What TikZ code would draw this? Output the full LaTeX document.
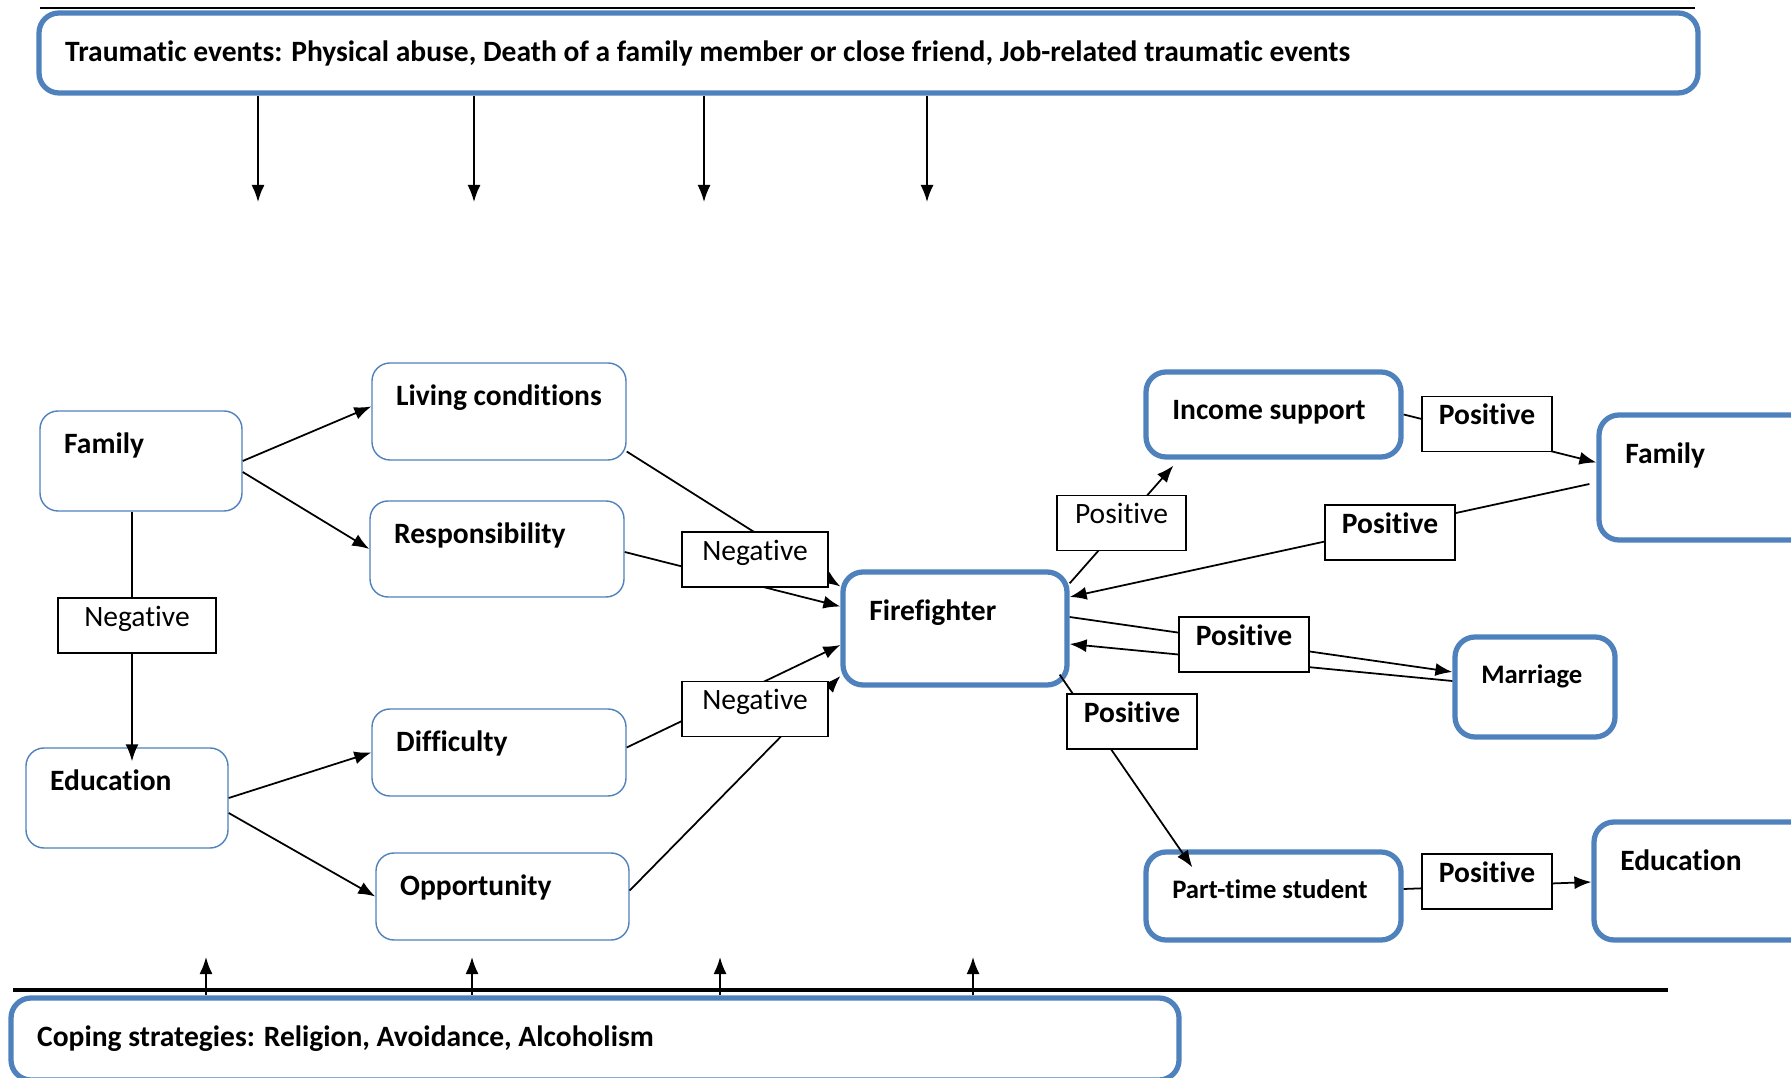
\documentclass[tikz,border=0pt]{standalone}
\usepackage{fontspec}
\setmainfont{Carlito}[Ligatures=NoCommon]
\usetikzlibrary{arrows.meta,positioning}
\definecolor{boxblue}{RGB}{79,129,189}
\newcommand{\boxfont}{\fontsize{8.4}{10}\selectfont}
\newcommand{\smallboxfont}{\fontsize{7.6}{9}\selectfont}
\tikzset{thintext/.style={anchor=north west,inner sep=0,xshift=0.24cm,yshift=-0.22cm,font=\boxfont\bfseries},
    thicktext/.style={anchor=north west,inner sep=0,xshift=0.28cm,yshift=-0.30cm,font=\boxfont\bfseries},
    thinbox/.style={draw=boxblue,line width=0.4pt,rounded corners=0.18cm,fill=white,inner sep=0,
        label={[thintext]north west:{#1}}},
    thickbox/.style={draw=boxblue,line width=1.5pt,rounded corners=0.2cm,fill=white,inner sep=0,
        label={[thicktext]north west:{#1}}},
    tag/.style={draw,fill=white,line width=0.5pt,minimum width=1.3cm,minimum height=0.55cm,inner sep=0,
        text height=0.63em,text depth=0.6em,font=\boxfont},
    rule/.style={line width=0.8pt}
}

\begin{document}
\begin{tikzpicture}[>={Latex[length=1.7mm,width=1.3mm]},line width=0.5pt]
\useasboundingbox (0,0) rectangle (17.91,-10.78);

% rules above and below
\draw [rule] (0.40,-0.08) -- (16.95,-0.08);
\draw [rule,line width=1.1pt] (0.13,-9.90) -- (16.68,-9.90);

% events and strategies
\node (trauma) at (8.685,-0.53) [thickbox={Traumatic events: Physical abuse, Death of a family member or close friend, Job-related traumatic events},minimum width=16.59cm,minimum height=0.80cm] {};
\node (coping) at (5.95,-10.39) [thickbox={Coping strategies: Religion, Avoidance, Alcoholism},minimum width=11.68cm,minimum height=0.82cm] {};

\foreach \x [count=\i] in {2.58,4.74,7.04,9.27}
{
    \coordinate (tr\i) at (\x,-2.02);
    \draw [->] (trauma.south -| tr\i) -- (tr\i);
}
\foreach \x [count=\i] in {2.06,4.72,7.20,9.73}
{
    \coordinate (cp\i) at (\x,-9.57);
    \draw [->] (coping.north -| cp\i) -- (cp\i);
}

% left side
\node (family) at (1.41,-4.61) [thinbox=Family,minimum width=2.02cm,minimum height=1.00cm] {};
\node (living) at (4.99,-4.115) [thinbox=Living conditions,minimum width=2.54cm,minimum height=0.97cm] {};
\node (resp) at (4.97,-5.49) [thinbox=Responsibility,minimum width=2.54cm,minimum height=0.96cm] {};
\node (edu) at (1.27,-7.98) [thinbox=Education,minimum width=2.02cm,minimum height=1.00cm] {};
\node (diff) at (4.99,-7.525) [thinbox=Difficulty,minimum width=2.54cm,minimum height=0.87cm] {};
\node (opp) at (5.025,-8.965) [thinbox=Opportunity,minimum width=2.53cm,minimum height=0.87cm] {};

% firefighter and outcomes
\node (ff) at (9.55,-6.285) [thickbox=Firefighter,minimum width=2.24cm,minimum height=1.13cm] {};
\node (income) at (12.735,-4.145) [thickbox=Income support,minimum width=2.55cm,minimum height=0.85cm] {};
\node (famR) at (17.145,-4.775) [thickbox=Family,minimum width=2.31cm,minimum height=1.25cm] {};
\node (marr) at (15.35,-6.87) [thickbox={\smallboxfont Marriage},minimum width=1.60cm,minimum height=1.00cm] {};
\node (pt) at (12.735,-8.96) [thickbox={\smallboxfont Part-time student},minimum width=2.55cm,minimum height=0.88cm] {};
\node (eduR) at (17.12,-8.81) [thickbox=Education,minimum width=2.36cm,minimum height=1.18cm] {};

\draw [->] (family.east) -- ([yshift=0.5mm]living.west);
\draw [->] ([yshift=-1.1mm]family.east) -- (resp.west);
\draw [->] (edu.east) -- (diff.west);
\draw [->] ([yshift=-1.5mm]edu.east) -- (opp.west);

\draw [->] ([yshift=-4mm]living.east) -- ([yshift=4.2mm]ff.west);
\draw [->] ([yshift=-0.3mm]resp.east) -- ([yshift=2.2mm]ff.west);
\draw [->] ([yshift=0.5mm]diff.east) -- ([yshift=-1.65mm]ff.west);
\draw [->] ([yshift=0.6mm]opp.east) -- ([yshift=-4.75mm]ff.west);

\draw [->] ([yshift=-1.4mm]ff.north east) -- ([xshift=3mm,yshift=-0.6mm]income.south west);
\draw [->] (income.east) -- ([yshift=1.5mm]famR.west);
\draw [->] ([xshift=-0.7mm,yshift=-0.65mm]famR.west) -- ([yshift=3.15mm]ff.east);
\draw [->] ([yshift=1.15mm]ff.east) -- ([yshift=1.5mm]marr.west);
\draw [->] ([yshift=0.6mm]marr.west) -- ([yshift=-1.55mm]ff.east);
\draw [->] ([shift={(-0.1,0.13)}]ff.south east) -- ([shift={(0.49,-0.18)}]pt.north west);
\draw [->] ([yshift=0.7mm]pt.east) -- ([yshift=-0.1mm]eduR.west);

% signs on the links
\node (negL) at (1.37,-6.255) [tag,minimum width=1.58cm] {Negative};
\draw ([xshift=-0.5mm]negL.north) -- ([xshift=-0.5mm]negL.north |- family.south);
\draw [->] ([xshift=-0.5mm]negL.south) -- ([xshift=-0.5mm,yshift=-1.4mm]negL.south |- edu.north);

\node (negT) at (7.55,-5.595) [tag,minimum width=1.46cm] {Negative};
\node (negB) at (7.55,-7.09) [tag,minimum width=1.46cm] {Negative};
\node (posFI) at (11.215,-5.23) [tag,minimum width=1.29cm] {Positive};
\node (posIF) at (14.87,-4.24) [tag,font=\boxfont\bfseries] {Positive};
\node (posFF) at (13.9,-5.325) [tag,font=\boxfont\bfseries] {Positive};
\node (posM) at (12.44,-6.445) [tag,font=\boxfont\bfseries] {Positive};
\node (posP) at (11.32,-7.215) [tag,font=\boxfont\bfseries] {Positive};
\node (posE) at (14.87,-8.815) [tag,font=\boxfont\bfseries] {Positive};

\end{tikzpicture}
\end{document}
